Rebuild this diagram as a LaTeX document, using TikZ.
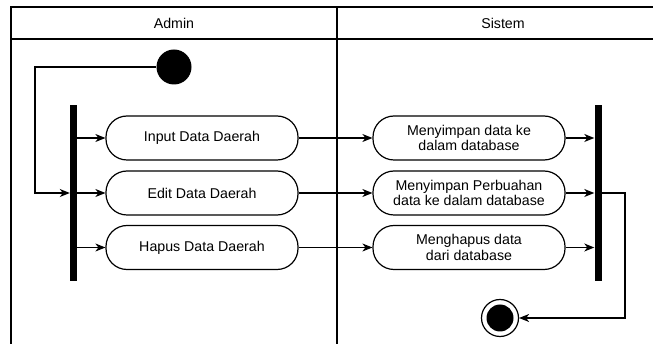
\documentclass[tikz,border=0pt]{standalone}
\usepackage{fontspec}
\setmainfont{Liberation Sans}
\usetikzlibrary{arrows.meta}
\begin{document}
\begin{tikzpicture}[x=1pt,y=-1pt,
  every node/.style={font=\fontsize{14.2}{15.8}\selectfont},
  action/.style={draw, line width=1.2pt, rounded corners=21pt, minimum width=192pt,
                 minimum height=44pt, align=center, inner sep=0pt},
  bar/.style={fill=black, draw=none, minimum width=7pt, minimum height=176pt, inner sep=0pt},
  flow/.style={draw, line width=1.2pt, -{Stealth[length=10pt,width=8pt,inset=3pt]}},
  lane/.style={line width=1.4pt}]
\clip (0,0) rectangle (653,344);
% swimlane frame
\draw[lane] (11,370) -- (11,7) -- (690,7);
\draw[lane] (11,39) -- (690,39);
\draw[lane] (337,7) -- (337,370);
\node at (174,23) {Admin};
\node at (503,23) {Sistem};
% start, fork and join
\node[circle, fill=black, minimum size=35pt, inner sep=0pt] (start) at (174,67) {};
\node[bar] (fork) at (73.5,193) {};
\node[bar] (join) at (598,193) {};
% actions
\node[action] (in)  at (202,138) {Input Data Daerah};
\node[action] (ed)  at (202,193) {Edit Data Daerah};
\node[action] (hp)  at (202,247.5) {Hapus Data Daerah};
\node[action] (sin) at (469,138) {Menyimpan data ke\\dalam database};
\node[action] (sed) at (469,193) {Menyimpan Perbuahan\\data ke dalam database};
\node[action] (shp) at (469,247.5) {Menghapus data\\dari database};
% final node
\node[circle, draw, line width=1.2pt, minimum size=37pt, inner sep=0pt] (end) at (500,318) {};
\node[circle, fill=black, minimum size=27pt, inner sep=0pt] (endin) at (end) {};
% connectors
\coordinate (loop) at (35,193);
\coordinate (turn) at (625,193);
\draw[flow] (start.west) -| (loop) -- (fork.west);
\foreach \a/\b in {in/sin, ed/sed, hp/shp}{
  \draw[flow] (fork.east |- \a) -- (\a.west);
  \draw[flow] (\a.east) -- (\b.west);
  \draw[flow] (\b.east) -- (join.west |- \b);
}
\draw[flow] (join.east) -- (turn) |- (end.east);
\end{tikzpicture}
\end{document}
